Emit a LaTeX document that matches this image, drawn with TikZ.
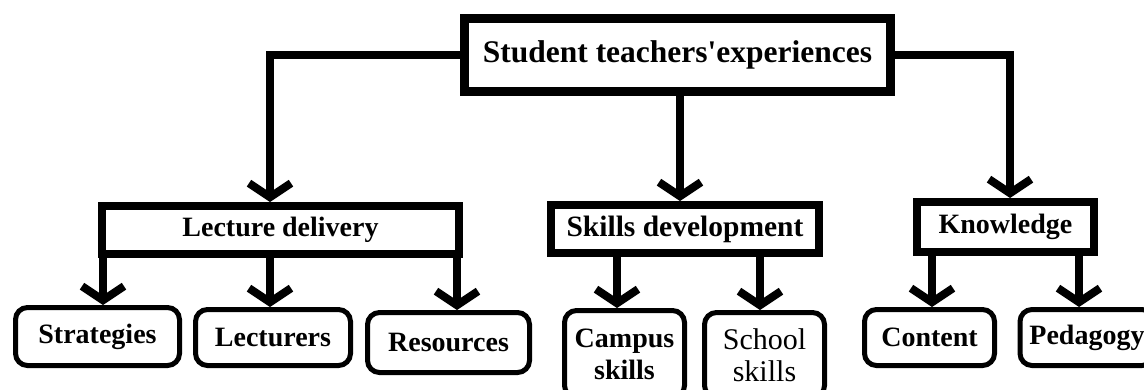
\documentclass[tikz,border=0pt]{standalone}
\usepackage{fontspec}
\setmainfont{Liberation Serif}[Ligatures=TeXOff]
\usetikzlibrary{arrows.meta}
\tikzset{
  topbox/.style={draw, line width=9pt, minimum width=426pt, minimum height=73pt, inner sep=0pt,
    font=\bfseries\fontsize{31.5}{34}\selectfont},
  midbox/.style={draw, line width=8pt, minimum height=48pt, inner sep=0pt,
    font=\bfseries\fontsize{28}{32}\selectfont},
  leafbox/.style={draw, line width=5pt, rounded corners=12pt, minimum height=56pt, inner sep=0pt,
    align=center, font=\bfseries\fontsize{28}{32}\selectfont},
  conn/.style={line width=8pt, -{Straight Barb[length=14pt,width=42pt]}}
}
\begin{document}
\begin{tikzpicture}[x=1pt,y=-1pt]
\useasboundingbox (0,0) rectangle (1144,389);
\clip (0,0) rectangle (1144,389);
\fill[white] (0,0) rectangle (1144,389);

\node[topbox] (root) at (677.5,55) {Student teachers'experiences};

\node[midbox, minimum width=357pt] (lect) at (280.5,230) {Lecture delivery};
\node[midbox, minimum width=268pt, font=\bfseries\fontsize{29.5}{32}\selectfont] (skill) at (685,229) {Skills development};
\node[midbox, minimum width=177pt, minimum height=50pt] (know) at (1005.5,227) {Knowledge};

\node[leafbox, minimum width=164pt, minimum height=58pt] (strat) at (97.5,336.5) {Strategies};
\node[leafbox, minimum width=155pt] (lectr) at (273,337.5) {Lecturers};
\node[leafbox, minimum width=162pt, minimum height=60pt] (res) at (448.5,342.5) {Resources};
\node[leafbox, minimum width=120pt, minimum height=87pt] (camp) at (624.5,354) {Campus\\skills};
\node[leafbox, minimum width=120pt, minimum height=85pt, font=\fontsize{30}{32}\selectfont] (school) at (764.5,355) {School\\skills};
\node[leafbox, minimum width=130pt] (cont) at (929.5,337.5) {Content};
\node[leafbox, minimum width=134pt] (ped) at (1087,337.5) {Pedagogy};

% top-level connectors
\draw[conn] (root.west) -| ([xshift=-10.5pt]lect.north);
\draw[conn] ([xshift=2.5pt]root.south) -- ([xshift=-5pt]skill.north);
\draw[conn] (root.east) -| ([xshift=4.5pt]know.north);

% second-level connectors
\draw[conn] ([xshift=5.5pt]strat.north |- lect.south) -- ([xshift=5.5pt]strat.north);
\draw[conn] ([xshift=-3pt]lectr.north |- lect.south) -- ([xshift=-3pt]lectr.north);
\draw[conn] ([xshift=8.5pt]res.north |- lect.south) -- ([xshift=8.5pt]res.north);
\draw[conn] ([xshift=-7.5pt]camp.north |- skill.south) -- ([xshift=-7.5pt]camp.north);
\draw[conn] ([xshift=-4.5pt]school.north |- skill.south) -- ([xshift=-4.5pt]school.north);
\draw[conn] ([xshift=2.5pt]cont.north |- know.south) -- ([xshift=2.5pt]cont.north);
\draw[conn] ([xshift=-8pt]ped.north |- know.south) -- ([xshift=-8pt]ped.north);
\end{tikzpicture}
\end{document}
